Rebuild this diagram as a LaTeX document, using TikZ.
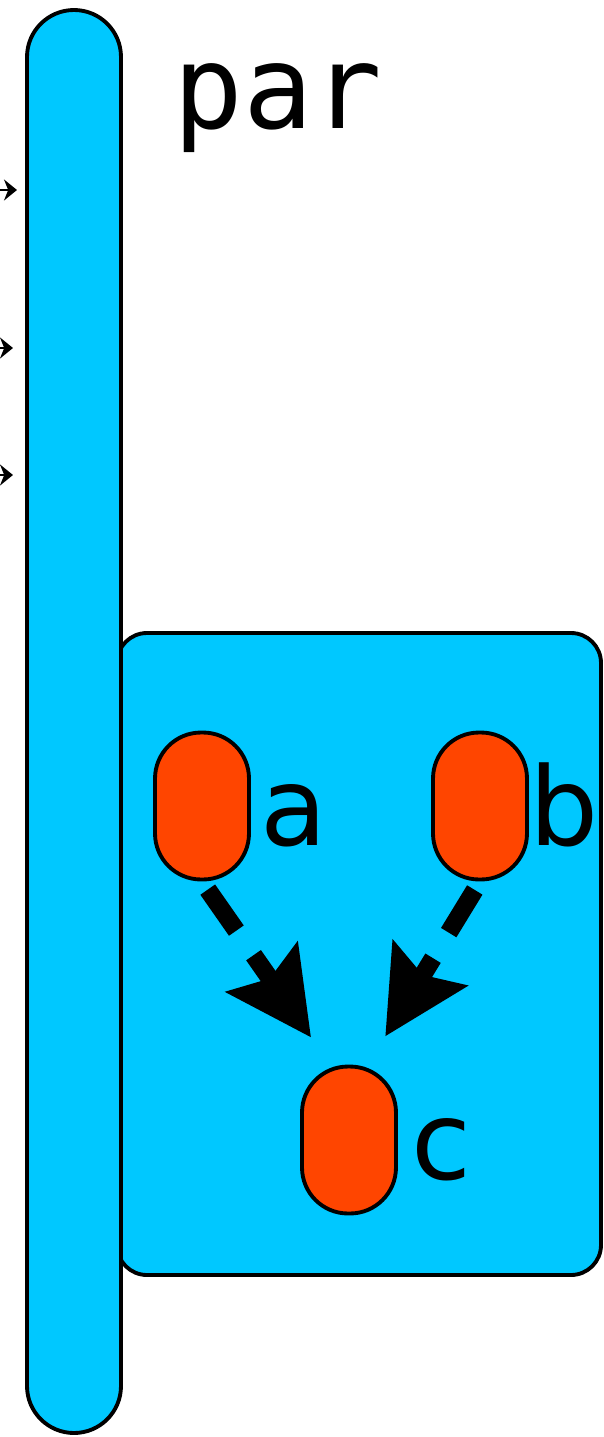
\documentclass[tikz,border=0pt]{standalone}
\usepackage{fontspec}
\setmainfont{DejaVu Sans}
\newfontfamily\lanefont{DejaVu Sans Mono}
\usetikzlibrary{arrows.meta,positioning}
\definecolor{lanefill}{HTML}{00C8FF}
\definecolor{taskfill}{HTML}{FF4500}

\begin{document}
\begin{tikzpicture}[x=0.02cm, y=-0.02cm,
  border/.style={draw=black, line width=2.2pt},
  tasknode/.style={border, fill=taskfill, minimum width=1.88cm, minimum height=2.94cm,
    rounded corners=0.92cm, inner sep=0pt},
  tasklabel/.style={font=\fontsize{62}{74}\selectfont, inner sep=0pt, anchor=base west},
  flow/.style={line width=0.36cm, dash pattern=on 1cm off 0.6cm, shorten <=0.2cm,
    shorten >=0.66cm, -{Stealth[length=1.7cm, width=1.7cm, inset=0.26cm]}},
  incoming/.style={line width=1.2pt, -{Stealth[length=0.26cm, width=0.42cm]}}]
  \useasboundingbox (0,0) rectangle (603,1437);

  % subprocess box
  \draw[border, fill=lanefill, rounded corners=0.6cm] (117,633) rectangle (601,1275);

  % pool lane
  \draw[border, fill=lanefill, rounded corners=0.94cm] (27,10) rectangle (121,1433);
  \node[font=\lanefont\fontsize{66}{78}\selectfont, inner sep=0pt, anchor=base west]
    (lanename) at (173,128) {par};

  % incoming flows
  \coordinate (in1) at (-20,190);
  \coordinate (in2) at (-20,348);
  \coordinate (in3) at (-20,475);
  \coordinate (to1) at (17,190);
  \coordinate (to2) at (13,348);
  \coordinate (to3) at (13,475);
  \foreach \i in {1,2,3}
    \draw[incoming] (in\i) -- (to\i);

  % tasks
  \node[tasknode] (a) at (202,806) {};
  \node[tasknode] (b) at (480,806) {};
  \node[tasknode] (c) at (349,1140) {};
  \node[tasklabel] (la) at ([xshift=0.18cm, yshift=-0.78cm]a.east) {a};
  \node[tasklabel] (lb) at ([xshift=0cm, yshift=-0.78cm]b.east) {b};
  \node[tasklabel] (lc) at ([xshift=0.26cm, yshift=-0.78cm]c.east) {c};

  % flows
  \draw[flow] (a.south) -- ([xshift=-0.38cm]c.north);
  \draw[flow] (b.south) -- ([xshift=0.38cm]c.north);
\end{tikzpicture}
\end{document}
